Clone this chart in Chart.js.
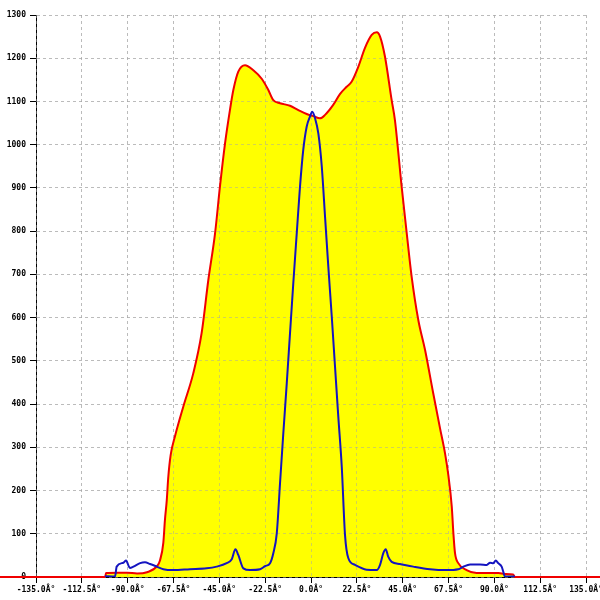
<!DOCTYPE html>
<html>
<head>
<meta charset="utf-8">
<script src="https://cdn.jsdelivr.net/npm/chart.js@4/dist/chart.umd.min.js"></script>
<style>
    html, body { margin: 0; padding: 0; background: #ffffff; }
    #grafico { display: block; }
</style>
</head>
<body>
<canvas id="grafico" width="600" height="600"></canvas>
<script>
/* =========================================
   DATOS
   ========================================= */
// Curva roja (rellena en amarillo)
const angulosRojo = [-180, -101.1, -100.6, -95.2, -90.3, -85.4, -80.5, -75.6, -74.1, -72.5, -71.7, -70.8,
    -70.1, -68.9, -66.8, -62.7, -57.8, -53.7, -50.4, -47.1, -44.7, -42.2, -39.8, -38.1, -35.7, -32.4,
    -28.3, -24.1, -21.0, -18.5, -15.2, -10.3, -6.2, -2.1, 1.1, 4.4, 6.9, 10.9, 14.2, 17.5, 20.0, 23.2,
    26.5, 29.8, 32.3, 33.9, 36.3, 39.6, 41.2, 44.5, 47.0, 49.4, 52.7, 56.0, 60.0, 63.3, 65.8, 67.4,
    69.1, 69.9, 70.7, 72.3, 76.4, 81.3, 87.9, 92.0, 95.2, 99.2, 100.1, 180];
const valoresRojo = [0, 0, 9, 10, 10, 8, 11, 25, 39, 79, 132, 178,
    229, 282, 325, 394, 471, 564, 687, 795, 903, 1003, 1080, 1127, 1169, 1184,
    1172, 1152, 1127, 1103, 1096, 1090, 1080, 1071, 1066, 1061, 1069, 1092, 1117, 1134, 1146, 1180,
    1224, 1254, 1260, 1250, 1204, 1103, 1057, 903, 795, 695, 594, 525, 425, 345, 286, 236,
    163, 101, 55, 32, 16, 9, 9, 9, 7, 6, 0, 0];

// Curva azul
const angulosAzul = [-101.1, -96.2, -95.4, -92.1, -90.8, -88.9, -87.2, -83.9, -81.5, -79.0, -75.7, -72.5,
    -67.6, -59.4, -51.2, -46.3, -41.4, -38.9, -37.1, -35.7, -33.2, -29.9, -25.0, -22.6, -20.1, -18.5,
    -16.8, -15.2, -13.6, -11.9, -10.3, -8.7, -7.0, -5.4, -3.8, -2.1, -0.5, 0.6, 2.0, 3.6, 5.3, 6.9,
    8.5, 10.2, 11.8, 13.4, 15.1, 16.7, 18.3, 21.6, 27.3, 32.3, 33.9, 35.5, 36.7, 37.9, 39.6, 43.7,
    50.2, 58.4, 66.6, 72.3, 74.8, 78.1, 83.0, 86.3, 87.9, 89.5, 90.7, 91.9, 93.6, 94.4, 95.2, 100.1];
const valoresAzul = [2, 1, 24, 33, 38, 21, 24, 32, 34, 30, 24, 18,
    16, 18, 20, 24, 32, 41, 64, 51, 20, 16, 18, 25, 32, 55,
    101, 217, 332, 448, 564, 679, 795, 903, 988, 1042, 1065, 1076, 1061, 1026, 949, 833,
    718, 602, 486, 371, 255, 97, 44, 28, 17, 16, 28, 55, 64, 47, 35, 30,
    24, 18, 16, 18, 24, 29, 29, 28, 33, 32, 38, 32, 24, 12, 1, 1];

// Ejes
const ejeXMin = -135, ejeXMax = 135, ejeXPaso = 22.5;
const ejeYMin = 0, ejeYMax = 1300, ejeYPaso = 100;

const puntos = (xs, ys) => xs.map((x, i) => ({ x: x, y: ys[i] }));

/* =========================================
   REJILLA SOBRE EL RELLENO
   ========================================= */
const rejillaEncima = {
    id: 'rejillaEncima',
    beforeDatasetsDraw(chart) {
        chart.scales.x.drawGrid(chart.chartArea);
        chart.scales.y.drawGrid(chart.chartArea);
    }
};

const fuente = { family: 'DejaVu Sans Mono', size: 8, weight: 'bold' };
const rejilla = { color: 'rgba(165,165,165,0.5)', tickColor: '#000000', tickLength: 6, lineWidth: 1 };

/* =========================================
   GRÁFICO
   ========================================= */
new Chart(document.getElementById('grafico').getContext('2d'), {
    type: 'line',
    data: {
        datasets: [
            {
                label: 'Azul',
                data: puntos(angulosAzul, valoresAzul),
                borderColor: '#1414c0',
                borderWidth: 2,
                pointRadius: 0,
                fill: false,
                cubicInterpolationMode: 'monotone',
                order: 0
            },
            {
                label: 'Rojo',
                data: puntos(angulosRojo, valoresRojo),
                borderColor: '#f00000',
                backgroundColor: '#ffff00',
                borderWidth: 2,
                pointRadius: 0,
                fill: 'origin',
                cubicInterpolationMode: 'monotone',
                clip: false,
                order: 1
            }
        ]
    },
    options: {
        responsive: false,
        animation: false,
        devicePixelRatio: 1,
        layout: { padding: { top: 15, right: 14, left: 0, bottom: 0 } },
        plugins: {
            legend: { display: false },
            tooltip: { enabled: false },
            filler: { drawTime: 'beforeDatasetsDraw' }
        },
        scales: {
            x: {
                type: 'linear',
                min: ejeXMin,
                max: ejeXMax,
                grid: rejilla,
                border: { color: '#000000', width: 1, dash: [3, 3] },
                ticks: {
                    stepSize: ejeXPaso,
                    color: '#000000',
                    font: fuente,
                    padding: 2,
                    maxRotation: 0,
                    autoSkip: false,
                    callback: v => Number(v).toFixed(1) + 'Â°'
                },
                afterFit: s => { s.height = 23; s.paddingLeft = 0; s.paddingRight = 0; }
            },
            y: {
                min: ejeYMin,
                max: ejeYMax,
                grid: rejilla,
                border: { color: '#000000', width: 1, dash: [3, 3] },
                ticks: {
                    stepSize: ejeYPaso,
                    color: '#000000',
                    font: fuente,
                    padding: 4,
                    callback: v => String(v)
                },
                afterFit: s => { s.width = 36; s.paddingTop = 0; s.paddingBottom = 0; }
            }
        }
    },
    plugins: [rejillaEncima]
});
</script>
</body>
</html>
